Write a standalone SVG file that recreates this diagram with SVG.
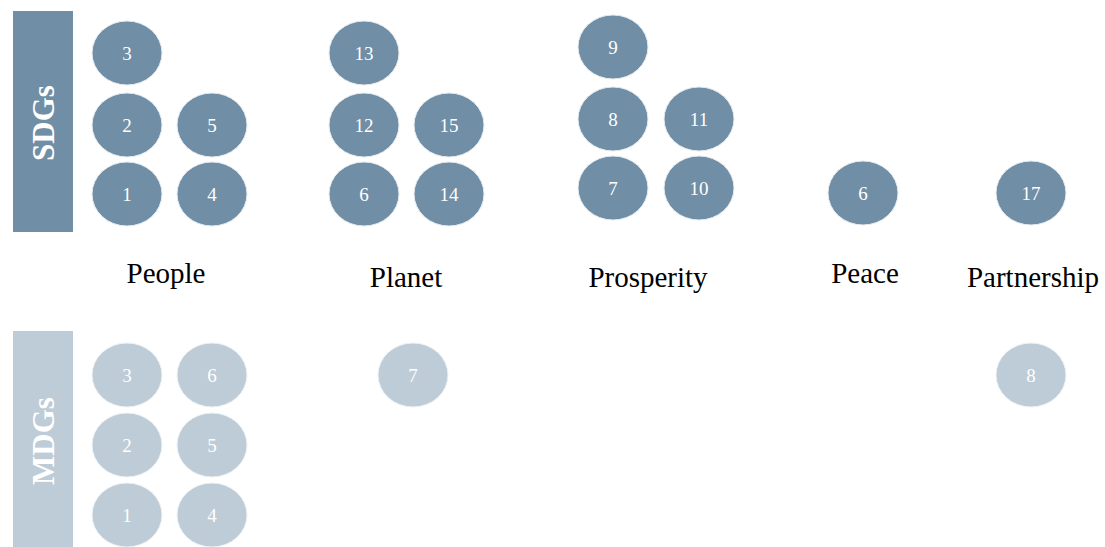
<svg xmlns="http://www.w3.org/2000/svg" width="1105" height="547" viewBox="0 0 1105 547">
<style>
.s{fill:#708ea5;stroke:#e6ebef;stroke-width:1}
.m{fill:#bdccd6;stroke:#eef2f5;stroke-width:1}
.n{font-family:"Liberation Serif",serif;font-size:19px;fill:#ffffff;text-anchor:middle;dominant-baseline:central}
.lab{font-family:"Liberation Serif",serif;font-size:29px;fill:#000;text-anchor:middle}
.side{font-family:"Liberation Serif",serif;font-size:31px;font-weight:bold;fill:#ffffff;text-anchor:middle;dominant-baseline:central}
</style>
<rect width="1105" height="547" fill="#fff"/>
<g id="sdgs-bar"><rect x="13" y="11" width="60" height="221" fill="#708ea5"/><text class="side" transform="translate(43 123) rotate(-90)">SDGs</text></g>
<g id="mdgs-bar"><rect x="13" y="331" width="60" height="216" fill="#bdccd6"/><text class="side" transform="translate(43 441) rotate(-90)">MDGs</text></g>
<g id="s3"><ellipse class="s" cx="127" cy="53" rx="35" ry="32"/><text class="n" x="127" y="53">3</text></g>
<g id="s2"><ellipse class="s" cx="127" cy="125" rx="35" ry="32"/><text class="n" x="127" y="125">2</text></g>
<g id="s1"><ellipse class="s" cx="127" cy="194" rx="35" ry="32"/><text class="n" x="127" y="194">1</text></g>
<g id="s5"><ellipse class="s" cx="212" cy="125" rx="35" ry="32"/><text class="n" x="212" y="125">5</text></g>
<g id="s4"><ellipse class="s" cx="212" cy="194" rx="35" ry="32"/><text class="n" x="212" y="194">4</text></g>
<g id="s13"><ellipse class="s" cx="364" cy="53" rx="35" ry="32"/><text class="n" x="364" y="53">13</text></g>
<g id="s12"><ellipse class="s" cx="364" cy="125" rx="35" ry="32"/><text class="n" x="364" y="125">12</text></g>
<g id="s6a"><ellipse class="s" cx="364" cy="194" rx="35" ry="32"/><text class="n" x="364" y="194">6</text></g>
<g id="s15"><ellipse class="s" cx="449" cy="125" rx="35" ry="32"/><text class="n" x="449" y="125">15</text></g>
<g id="s14"><ellipse class="s" cx="449" cy="194" rx="35" ry="32"/><text class="n" x="449" y="194">14</text></g>
<g id="s9"><ellipse class="s" cx="613" cy="47" rx="35" ry="32"/><text class="n" x="613" y="47">9</text></g>
<g id="s8"><ellipse class="s" cx="613" cy="119" rx="35" ry="32"/><text class="n" x="613" y="119">8</text></g>
<g id="s7"><ellipse class="s" cx="613" cy="188" rx="35" ry="32"/><text class="n" x="613" y="188">7</text></g>
<g id="s11"><ellipse class="s" cx="699" cy="119" rx="35" ry="32"/><text class="n" x="699" y="119">11</text></g>
<g id="s10"><ellipse class="s" cx="699" cy="188" rx="35" ry="32"/><text class="n" x="699" y="188">10</text></g>
<g id="s6b"><ellipse class="s" cx="863" cy="193" rx="35" ry="32"/><text class="n" x="863" y="193">6</text></g>
<g id="s17"><ellipse class="s" cx="1031" cy="193" rx="35" ry="32"/><text class="n" x="1031" y="193">17</text></g>
<g id="labels">
<text class="lab" x="166" y="283">People</text>
<text class="lab" x="406" y="287">Planet</text>
<text class="lab" x="648" y="287">Prosperity</text>
<text class="lab" x="865" y="283">Peace</text>
<text class="lab" x="1033" y="287">Partnership</text>
</g>
<g id="m3"><ellipse class="m" cx="127" cy="375" rx="35" ry="32"/><text class="n" x="127" y="375">3</text></g>
<g id="m2"><ellipse class="m" cx="127" cy="445" rx="35" ry="32"/><text class="n" x="127" y="445">2</text></g>
<g id="m1"><ellipse class="m" cx="127" cy="515" rx="35" ry="32"/><text class="n" x="127" y="515">1</text></g>
<g id="m6"><ellipse class="m" cx="212" cy="375" rx="35" ry="32"/><text class="n" x="212" y="375">6</text></g>
<g id="m5"><ellipse class="m" cx="212" cy="445" rx="35" ry="32"/><text class="n" x="212" y="445">5</text></g>
<g id="m4"><ellipse class="m" cx="212" cy="515" rx="35" ry="32"/><text class="n" x="212" y="515">4</text></g>
<g id="m7"><ellipse class="m" cx="413" cy="375" rx="35" ry="32"/><text class="n" x="413" y="375">7</text></g>
<g id="m8"><ellipse class="m" cx="1031" cy="375" rx="35" ry="32"/><text class="n" x="1031" y="375">8</text></g>
</svg>
